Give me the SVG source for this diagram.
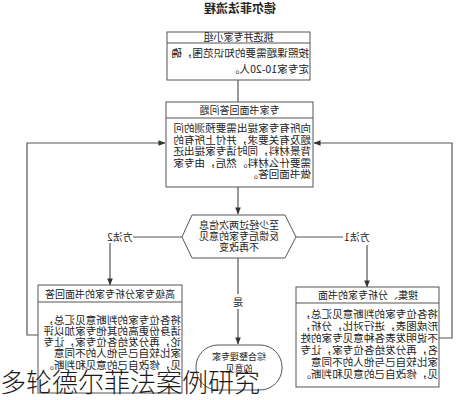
<svg xmlns="http://www.w3.org/2000/svg" width="476" height="400" viewBox="0 0 476 400">
<defs>
<style>
.bx{fill:#fff;stroke:#555;stroke-width:1}
.ln{fill:none;stroke:#555;stroke-width:1.2}
.t{font-family:"Noto Sans CJK SC","Noto Sans",sans-serif;fill:#222}
.h{font-size:10px;text-anchor:middle}
.b{font-size:10.6px}
.c{font-size:10px;text-anchor:middle}
</style>
<marker id="ar" viewBox="0 0 8 8" refX="7.5" refY="4" markerWidth="7" markerHeight="7" orient="auto" markerUnits="userSpaceOnUse">
<path d="M0,0.8 L8,4 L0,7.2 Z" fill="#333"/>
</marker>
</defs>
<rect width="476" height="400" fill="#fff"/>
<g transform="matrix(-1 0 0 1 476 0)">
<text class="t" x="236" y="13" font-size="12" font-weight="bold" text-anchor="middle">德尔菲法流程</text>
<g id="connectors">
<line class="ln" x1="238" y1="80" x2="238" y2="102"/>
<line class="ln" x1="238" y1="187" x2="238" y2="214" marker-end="url(#ar)"/>
<polyline class="ln" points="294,237 343,237"/>
<polyline class="ln" points="366,243 366,285" marker-end="url(#ar)"/>
<polyline class="ln" points="180,237 133,237"/>
<polyline class="ln" points="109,245 109,287" marker-end="url(#ar)"/>
<polyline class="ln" points="438,335 449,335 449,143 311,143" marker-end="url(#ar)"/>
<polyline class="ln" points="37,338 24,338 24,143 162,143" marker-end="url(#ar)"/>
<line class="ln" x1="238" y1="258" x2="238" y2="344" marker-end="url(#ar)"/>
<rect x="231" y="294" width="14" height="15" fill="#fff"/>
<text class="t c" x="238" y="306">是</text>
<text class="t c" x="356" y="241">方法2</text>
<text class="t c" x="119" y="241">方法1</text>
</g>
<g id="select">
<rect class="bx" x="166" y="32" width="143" height="48"/>
<line class="ln" x1="166" y1="43" x2="309" y2="43" stroke-width="1"/>
<text class="t h" x="237.5" y="41">挑选并专家小组</text>
<text class="t b" x="167" y="57" font-size="11">按照课题需要的知识范围，确</text>
<text class="t b" x="167" y="73" font-size="11">定专家10-20人。</text>
</g>
<g id="answer">
<rect class="bx" x="163" y="102" width="147" height="85"/>
<line class="ln" x1="163" y1="118" x2="310" y2="118" stroke-width="1"/>
<text class="t h" x="236.5" y="114">专家书面回答问题</text>
<text class="t b" x="165" y="132" font-size="11">向所有专家提出需要预测的问</text>
<text class="t b" x="165" y="143.5" font-size="11">题及有关要求，并付上所有的</text>
<text class="t b" x="165" y="155" font-size="11">背景材料，同时请专家提出还</text>
<text class="t b" x="165" y="166.5" font-size="11">需要什么材料。然后，由专家</text>
<text class="t b" x="165" y="178" font-size="11">做书面回答。</text>
</g>
<g id="decision">
<polygon class="bx" points="180,237 191,215 284,215 294,237 284,258 191,258"/>
<text class="t c" x="237" y="229">至少经过两次信息</text>
<text class="t c" x="237" y="240">反馈后专家的意见</text>
<text class="t c" x="237" y="251">不再改变</text>
</g>
<g id="collect">
<rect class="bx" x="37" y="287" width="143" height="100"/>
<line class="ln" x1="37" y1="303" x2="180" y2="303" stroke-width="1"/>
<text class="t h" x="108" y="299">搜集、分析专家的书面</text>
<text class="t b" x="38" y="318">将各位专家的判断意见汇总，</text>
<text class="t b" x="38" y="330">形成图表，进行对比，分析，</text>
<text class="t b" x="38" y="342">不说明发表各种意见专家的姓</text>
<text class="t b" x="38" y="354">名，再分发给各位专家，让专</text>
<text class="t b" x="38" y="366">家比较自己与他人的不同意</text>
<text class="t b" x="38" y="378">见，修改自己的意见和判断。</text>
</g>
<g id="senior">
<rect class="bx" x="294" y="285" width="144" height="108"/>
<line class="ln" x1="294" y1="302" x2="438" y2="302" stroke-width="1"/>
<text class="t h" x="366" y="298">高级专家分析专家的书面回答</text>
<text class="t b" x="295" y="324">将各位专家的判断意见汇总，</text>
<text class="t b" x="295" y="335">请身份更高的其他专家加以评</text>
<text class="t b" x="295" y="346">论，再分发给各位专家，让专</text>
<text class="t b" x="295" y="357">家比较自己与他人的不同意</text>
<text class="t b" x="295" y="369">见，修改自己的意见和判断。</text>
</g>
<g id="result">
<rect class="bx" x="194" y="345" width="86" height="45" rx="22" ry="22"/>
<text class="t" x="237" y="360" font-size="9" text-anchor="middle">综合整理专家</text>
<text class="t" x="237" y="372" font-size="9" text-anchor="middle">的意见</text>
</g>
</g>
<text x="0" y="392" font-family="'Noto Sans CJK SC',sans-serif" font-size="26" font-weight="300" fill="#1a1a1a">多轮德尔菲法案例研究</text>
</svg>
